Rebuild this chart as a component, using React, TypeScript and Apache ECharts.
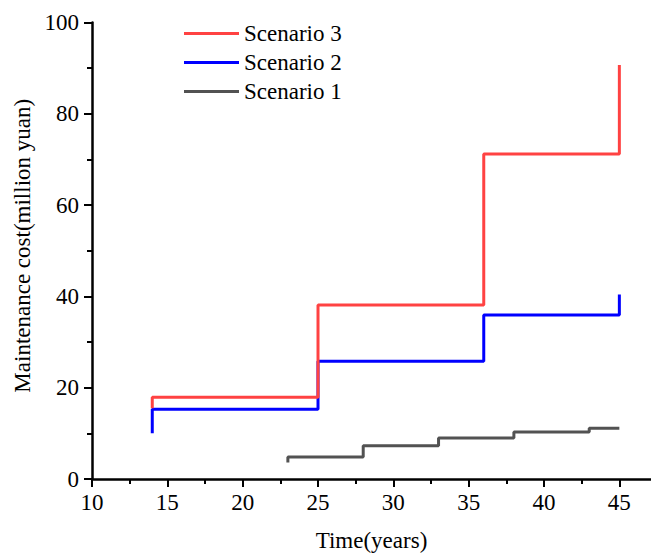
import React, { useEffect, useRef } from "react";
import * as echarts from "echarts";

const seriesNames = ["Scenario 3", "Scenario 2", "Scenario 1"];
const seriesColors = ["#ff4242", "#0000ff", "#525252"];

// step points (step: 'start' => vertical change at each point's x, then horizontal)
const s3Years = [14, 25, 36, 45, 45];
const s3Cost = [15.5, 17.9, 38.1, 71.2, 90.7];
const s2Years = [14, 25, 36, 45, 45];
const s2Cost = [10.0, 15.3, 25.8, 35.9, 40.4];
const s1Years = [23, 28, 33, 38, 43, 45];
const s1Cost = [3.6, 4.8, 7.3, 9.0, 10.3, 11.1];

const xMajor = [10, 15, 20, 25, 30, 35, 40, 45];
const xMinor = [12.5, 17.5, 22.5, 27.5, 32.5, 37.5, 42.5];

const FONT = '"Liberation Serif", "Times New Roman", serif';

function pairs(xs: number[], ys: number[]) {
  return xs.map((x, i) => [x, ys[i]]);
}

export default function App() {
  const ref = useRef<HTMLDivElement>(null);
  useEffect(() => {
    if (!ref.current) return;
    const chart = echarts.init(ref.current, undefined, { renderer: "svg" });
    const datasets = [pairs(s3Years, s3Cost), pairs(s2Years, s2Cost), pairs(s1Years, s1Cost)];
    chart.setOption({
      animation: false,
      backgroundColor: "#ffffff",
      grid: { left: 92, right: 0, top: 22.5, bottom: 77, containLabel: false },
      legend: {
        orient: "vertical",
        left: 179,
        top: 17,
        icon: "rect",
        itemWidth: 55,
        itemHeight: 3,
        itemGap: 6,
        data: seriesNames,
        textStyle: { fontFamily: FONT, fontSize: 23, lineHeight: 23, color: "#000" },
      },
      xAxis: [
        {
          type: "value",
          min: 10,
          max: 47.1,
          interval: 5,
          position: "bottom",
          name: "Time(years)",
          nameLocation: "middle",
          nameGap: 50,
          nameTextStyle: { fontFamily: FONT, fontSize: 23, color: "#000" },
          axisLine: { show: true, onZero: false, lineStyle: { color: "#000", width: 2.5 } },
          axisTick: { show: true, length: 8, customValues: xMajor, lineStyle: { color: "#000", width: 2 } },
          axisLabel: { customValues: xMajor, margin: 12, fontFamily: FONT, fontSize: 23, color: "#000" },
          splitLine: { show: false },
        },
        {
          type: "value",
          min: 10,
          max: 47.1,
          interval: 5,
          position: "bottom",
          offset: 0,
          axisLine: { show: false },
          axisTick: { show: true, length: 5, customValues: xMinor, lineStyle: { color: "#000", width: 2 } },
          axisLabel: { show: false },
          splitLine: { show: false },
        },
      ],
      yAxis: {
        type: "value",
        min: 0,
        max: 100,
        interval: 20,
        name: "Maintenance cost(million yuan)",
        nameLocation: "middle",
        nameGap: 56,
        nameTextStyle: { fontFamily: FONT, fontSize: 23, color: "#000", padding: [0, 0, 0, 10] },
        axisLine: { show: true, lineStyle: { color: "#000", width: 2.5 } },
        axisTick: { show: true, length: 8, lineStyle: { color: "#000", width: 2 } },
        minorTick: { show: true, splitNumber: 2, length: 5, lineStyle: { color: "#000", width: 2 } },
        axisLabel: { margin: 13, fontFamily: FONT, fontSize: 23, color: "#000" },
        splitLine: { show: false },
        minorSplitLine: { show: false },
      },
      series: seriesNames.map((name, i) => ({
        name,
        type: "line",
        step: "start",
        xAxisIndex: 0,
        symbol: "none",
        color: seriesColors[i],
        lineStyle: { color: seriesColors[i], width: 3 },
        data: datasets[i],
        z: 10 - i,
      })),
    });
    return () => chart.dispose();
  }, []);
  return (
    <div
      ref={ref}
      style={{ position: "absolute", left: 0, top: 0, width: 651, height: 557 }}
    />
  );
}
